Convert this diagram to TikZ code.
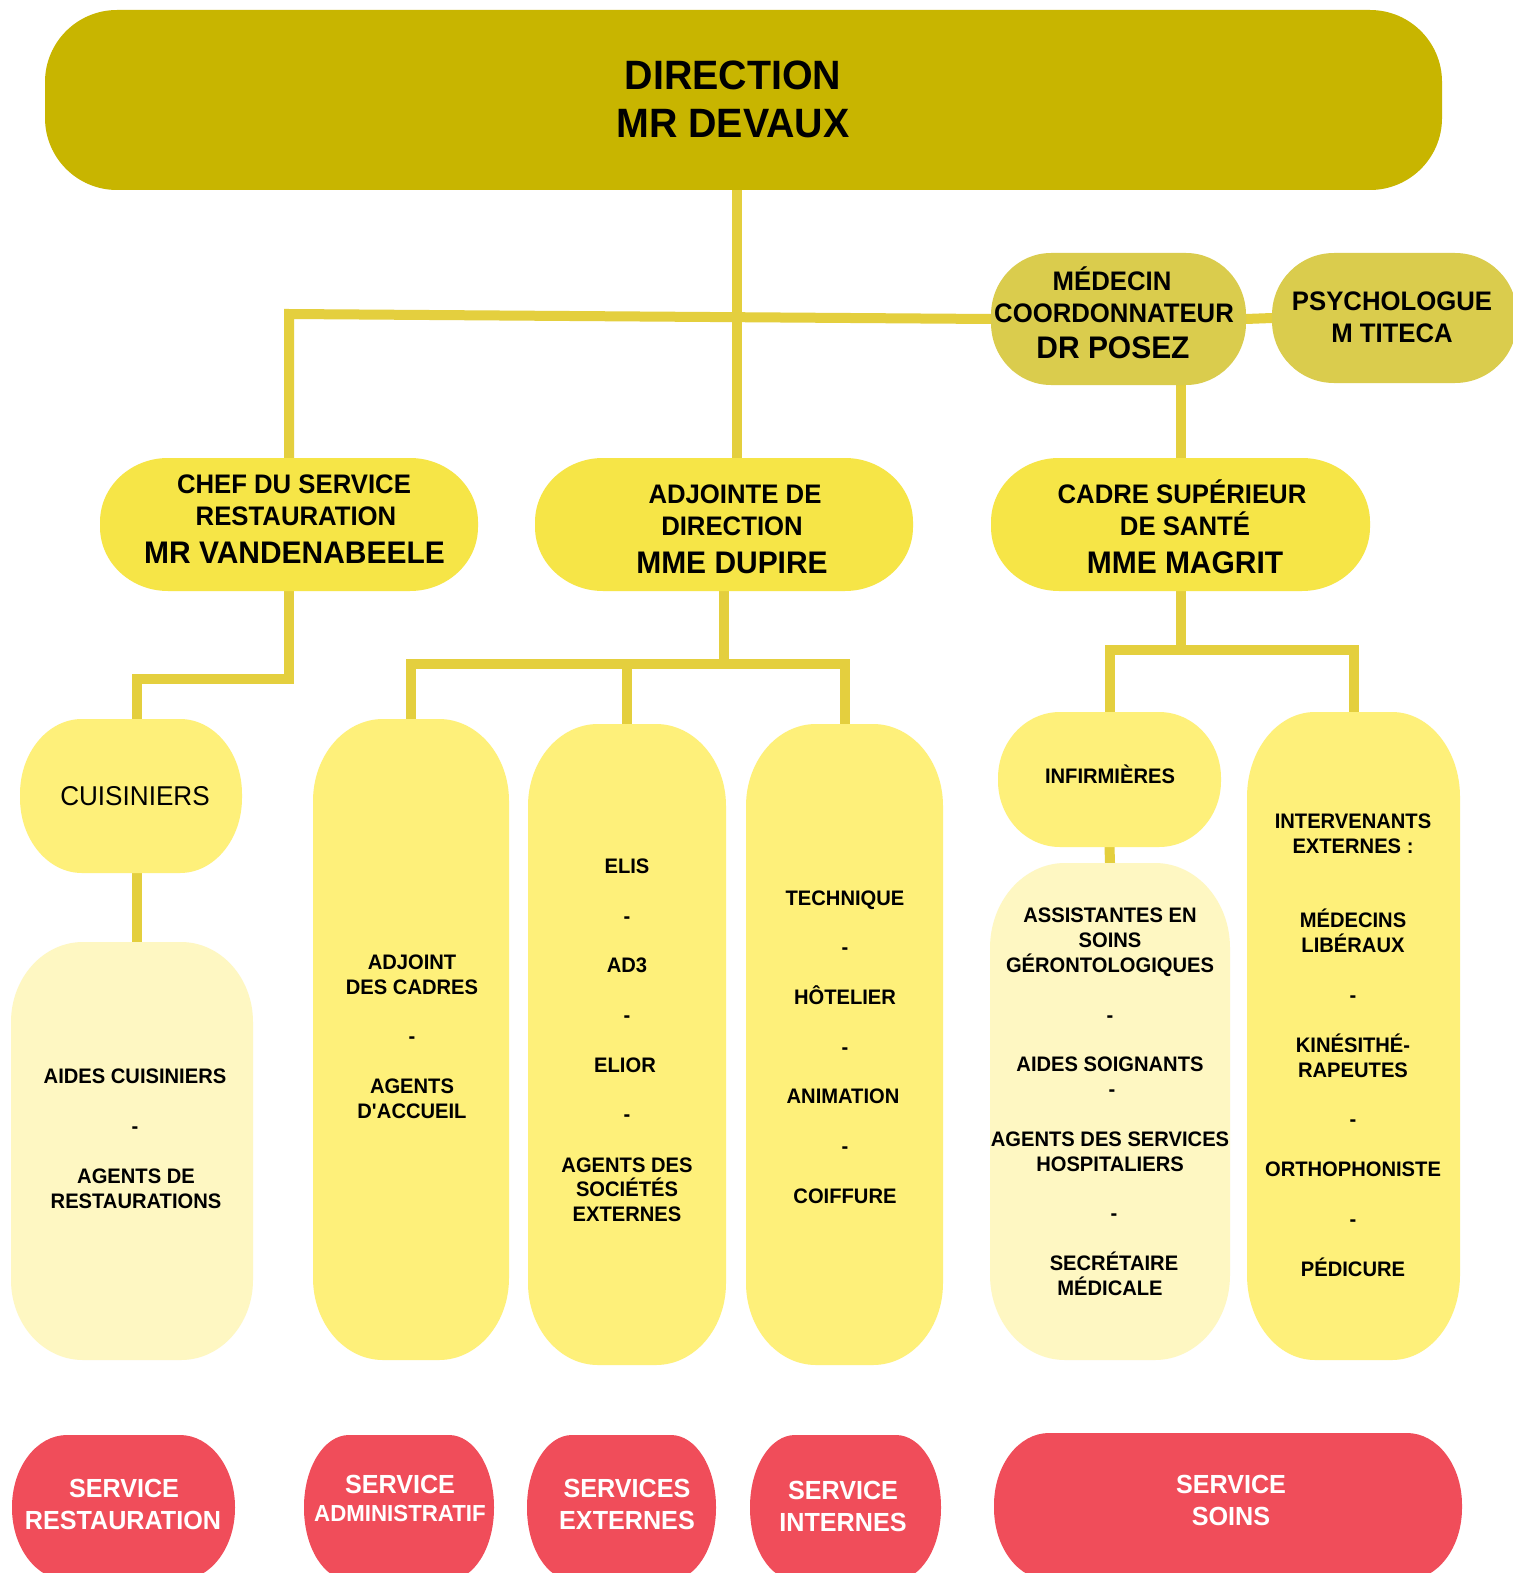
\documentclass[tikz,border=0pt]{standalone}
\usepackage{fontspec}
\setmainfont{Liberation Sans}[FakeStretch=0.96]
\definecolor{cDir}{HTML}{C8B500}
\definecolor{cMed}{HTML}{DACC4D}
\definecolor{cMid}{HTML}{F6E547}
\definecolor{cLev}{HTML}{FEF07A}
\definecolor{cLight}{HTML}{FEF7C2}
\definecolor{cConn}{HTML}{E4CF3E}
\definecolor{cRed}{HTML}{F04D5A}
\pgfdeclarelayer{bg}
\pgfsetlayers{bg,main}
\newcommand\mybox[8]{%
  \fill[#8] (#2+#6,#3) -- (#4-#6,#3)
    arc[start angle=90,end angle=0,x radius=#6*0.5pt,y radius=#7*0.5pt] -- (#4,#5-#7)
    arc[start angle=0,end angle=-90,x radius=#6*0.5pt,y radius=#7*0.5pt] -- (#2+#6,#5)
    arc[start angle=-90,end angle=-180,x radius=#6*0.5pt,y radius=#7*0.5pt] -- (#2,#3+#7)
    arc[start angle=180,end angle=90,x radius=#6*0.5pt,y radius=#7*0.5pt] -- cycle;
  \node[inner sep=0pt,outer sep=0pt,minimum width={(#4-#2)*0.5pt},minimum height={(#5-#3)*0.5pt}] (#1) at ({(#2+#4)/2},{(#3+#5)/2}) {};
}
\tikzset{
  conn/.style={draw=cConn, line width=5pt},
  tx/.style={anchor=base, inner sep=0pt, text=black},
  big/.style={tx, font=\bfseries\fontsize{20.5}{24}\selectfont},
  role/.style={tx, font=\bfseries\fontsize{13.4}{16}\selectfont},
  pname/.style={tx, font=\bfseries\fontsize{15.6}{18}\selectfont},
  sm/.style={tx, font=\bfseries\fontsize{10.5}{12}\selectfont},
  cuitxt/.style={tx, font=\fontsize{13.6}{16}\selectfont},
  rtxt/.style={tx, text=white, font=\bfseries\fontsize{13.1}{16}\selectfont},
  rtxtsm/.style={tx, text=white, font=\bfseries\fontsize{11.6}{14}\selectfont},
}
\begin{document}
\begin{tikzpicture}[x=0.5pt,y=-0.5pt]
\useasboundingbox (0,0) rectangle (1513,1573);
\clip (0,0) rectangle (1513,1573);
\begin{pgfonlayer}{bg}
\fill[white] (0,0) rectangle (1513,1573);
\end{pgfonlayer}
% boxes
\mybox{dir}{45}{10}{1442}{190}{72}{72}{cDir}
\mybox{med}{991}{253}{1246}{385}{60}{62}{cMed}
\mybox{psy}{1272}{253}{1517}{383}{62}{62}{cMed}
\mybox{chef}{100}{458}{478}{591}{68}{64}{cMid}
\mybox{adj}{535}{458}{913}{591}{68}{64}{cMid}
\mybox{cad}{991}{458}{1370}{591}{68}{64}{cMid}
\mybox{cui}{20}{719}{242}{873}{62}{75}{cLev}
\mybox{aides}{11}{942}{253}{1360}{72}{80}{cLight}
\mybox{b1}{313}{719}{509}{1360}{70}{82}{cLev}
\mybox{b2}{528}{724}{726}{1365}{70}{82}{cLev}
\mybox{b3}{746}{724}{943}{1365}{70}{82}{cLev}
\mybox{inf}{998}{712}{1221}{847}{62}{66}{cLev}
\mybox{ass}{990}{863}{1230}{1360}{75}{85}{cLight}
\mybox{itv}{1247}{712}{1460}{1360}{68}{85}{cLev}
\mybox{r1}{12}{1435}{235}{1580}{55}{72}{cRed}
\mybox{r2}{304}{1435}{494}{1580}{45}{72}{cRed}
\mybox{r3}{527}{1435}{716}{1580}{45}{72}{cRed}
\mybox{r4}{750}{1435}{941}{1580}{45}{72}{cRed}
\mybox{r5}{994}{1433}{1462}{1580}{55}{72}{cRed}
% connectors
\coordinate (hl) at (289,314);
\coordinate (cb) at (137,679);
\coordinate (ab) at (724,664);
\coordinate (cbr) at (1180,650);
\begin{pgfonlayer}{bg}
\draw[conn] ([xshift=6.5pt]adj.north) -- ([xshift=6.5pt]adj.north |- dir.south);
\draw[conn] (chef.north) -- (chef.north |- hl) -- (med.west);
\draw[conn] (med.east) -- (psy.west);
\draw[conn] (cad.north) -- (cad.north |- med.south);
\draw[conn] (chef.south) |- (cb) -- (cb |- cui.north);
\draw[conn] (cb |- cui.south) -- (cb |- aides.north);
\draw[conn] (adj.south) -- (adj.south |- ab);
\draw[conn] (b1.north) |- (b3.north |- ab) -- (b3.north);
\draw[conn] (b2.north) -- (b2.north |- ab);
\draw[conn] (cad.south) -- (cad.south |- cbr);
\draw[conn] (inf.north) |- (itv.north |- cbr) -- (itv.north);
\draw[conn] (inf.south) -- (ass.north);
\end{pgfonlayer}
% texts
\node[big] (t1) at (733,90) {DIRECTION};
\node[big] (t2) at (733,138) {MR DEVAUX};
\node[role] (t3) at (1112,290) {MÉDECIN};
\node[role] (t4) at (1114,322) {COORDONNATEUR};
\node[pname] (t5) at (1113,358) {DR POSEZ};
\node[role] (t6) at (1392,310) {PSYCHOLOGUE};
\node[role] (t7) at (1392,342) {M TITECA};
\node[role] (t8) at (294,493) {CHEF DU SERVICE};
\node[role] (t9) at (296,525) {RESTAURATION};
\node[pname] (t10) at (294.5,563) {MR VANDENABEELE};
\node[role] (t11) at (735,503) {ADJOINTE DE};
\node[role] (t12) at (732,535) {DIRECTION};
\node[pname] (t13) at (732,573) {MME DUPIRE};
\node[role] (t14) at (1182,503) {CADRE SUPÉRIEUR};
\node[role] (t15) at (1185,535) {DE SANTÉ};
\node[pname] (t16) at (1185,573) {MME MAGRIT};
\node[cuitxt] (t17) at (135,805) {CUISINIERS};
\node[sm] (t18) at (135,1083) {AIDES CUISINIERS};
\node[sm] (t19) at (135,1133) {-};
\node[sm] (t20) at (136,1183) {AGENTS DE};
\node[sm] (t21) at (136,1208) {RESTAURATIONS};
\node[sm] (t22) at (412,969) {ADJOINT};
\node[sm] (t23) at (412,994) {DES CADRES};
\node[sm] (t24) at (412,1043) {-};
\node[sm] (t25) at (412,1093) {AGENTS};
\node[sm] (t26) at (412,1118) {D\textquotesingle ACCUEIL};
\node[sm] (t27) at (627,873) {ELIS};
\node[sm] (t28) at (627,923) {-};
\node[sm] (t29) at (627,972) {AD3};
\node[sm] (t30) at (627,1022) {-};
\node[sm] (t31) at (625,1072) {ELIOR};
\node[sm] (t32) at (627,1121) {-};
\node[sm] (t33) at (627,1172) {AGENTS DES};
\node[sm] (t34) at (627,1196) {SOCIÉTÉS};
\node[sm] (t35) at (627,1221) {EXTERNES};
\node[sm] (t36) at (845,905) {TECHNIQUE};
\node[sm] (t37) at (845,954) {-};
\node[sm] (t38) at (845,1004) {HÔTELIER};
\node[sm] (t39) at (845,1054) {-};
\node[sm] (t40) at (843,1103) {ANIMATION};
\node[sm] (t41) at (845,1153) {-};
\node[sm] (t42) at (845,1203) {COIFFURE};
\node[sm] (t43) at (1110,783) {INFIRMIÈRES};
\node[sm] (t44) at (1110,922) {ASSISTANTES EN};
\node[sm] (t45) at (1110,947) {SOINS};
\node[sm] (t46) at (1110,972) {GÉRONTOLOGIQUES};
\node[sm] (t47) at (1110,1022) {-};
\node[sm] (t48) at (1110,1071) {AIDES SOIGNANTS};
\node[sm] (t49) at (1112,1096) {-};
\node[sm] (t50) at (1110,1146) {AGENTS DES SERVICES};
\node[sm] (t51) at (1110,1171) {HOSPITALIERS};
\node[sm] (t52) at (1114,1220) {-};
\node[sm] (t53) at (1114,1270) {SECRÉTAIRE};
\node[sm] (t54) at (1110,1295) {MÉDICALE};
\node[sm] (t55) at (1353,828) {INTERVENANTS};
\node[sm] (t56) at (1353,853) {EXTERNES :};
\node[sm] (t57) at (1353,927) {MÉDECINS};
\node[sm] (t58) at (1353,952) {LIBÉRAUX};
\node[sm] (t59) at (1353,1002) {-};
\node[sm] (t60) at (1353,1052) {KINÉSITHÉ-};
\node[sm] (t61) at (1353,1077) {RAPEUTES};
\node[sm] (t62) at (1353,1126) {-};
\node[sm] (t63) at (1353,1176) {ORTHOPHONISTE};
\node[sm] (t64) at (1353,1226) {-};
\node[sm] (t65) at (1353,1276) {PÉDICURE};
\node[rtxt] (t66) at (124,1497) {SERVICE};
\node[rtxt] (t67) at (123,1529) {RESTAURATION};
\node[rtxt] (t68) at (400,1493) {SERVICE};
\node[rtxtsm] (t69) at (400,1521) {ADMINISTRATIF};
\node[rtxt] (t70) at (627,1497) {SERVICES};
\node[rtxt] (t71) at (627,1529) {EXTERNES};
\node[rtxt] (t72) at (843,1499) {SERVICE};
\node[rtxt] (t73) at (843,1531) {INTERNES};
\node[rtxt] (t74) at (1231,1493) {SERVICE};
\node[rtxt] (t75) at (1231,1525) {SOINS};
\end{tikzpicture}
\end{document}
